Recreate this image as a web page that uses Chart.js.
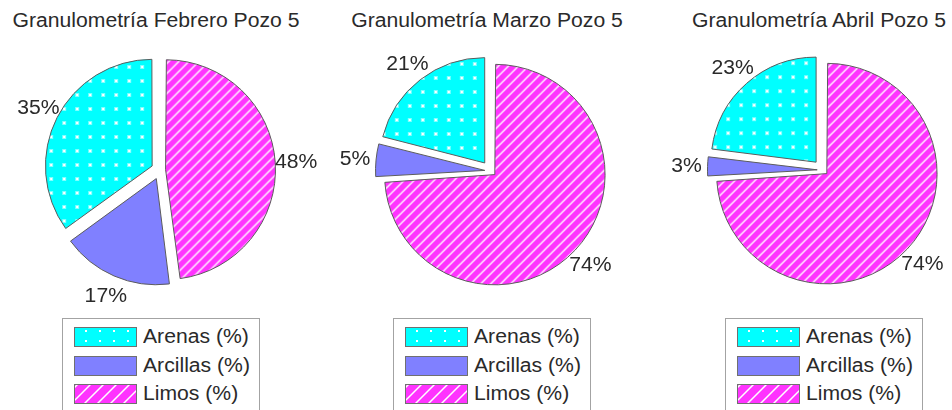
<!DOCTYPE html>
<html><head><meta charset="utf-8">
<script src="https://cdn.jsdelivr.net/npm/chart.js@4.4.1/dist/chart.umd.min.js"></script>
<style>
html,body{margin:0;padding:0;width:952px;height:410px;overflow:hidden;background:#fff;}
body{position:relative;}
.t{position:absolute;width:420px;text-align:center;font-family:"Liberation Sans",Arial,sans-serif;font-size:19.5px;line-height:22px;color:#2a2a2a;transform:scaleX(1.085);white-space:nowrap;}
canvas{position:absolute;}
.lg{position:absolute;width:198px;height:110px;border:1px solid #a3a3a3;box-sizing:border-box;}
.lt{position:absolute;font-family:"Liberation Sans",Arial,sans-serif;font-size:19.5px;line-height:22px;color:#2a2a2a;transform:scaleX(1.085);transform-origin:0 0;white-space:nowrap;}
</style></head><body>
<script>
// ---- data ----
const categories = ['Arenas (%)', 'Arcillas (%)', 'Limos (%)'];
const chartTitles = ['Granulometría Febrero Pozo 5', 'Granulometría Marzo Pozo 5', 'Granulometría Abril Pozo 5'];
const febrero = [35, 17, 48];
const marzo = [21, 5, 74];
const abril = [23, 3, 74];
const seriesList = [febrero, marzo, abril];

// ---- layout / style ----
const layout = [
  {cx: 160, cy: 170, tx: 155.5},
  {cx: 491, cy: 171, tx: 487},
  {cx: 823, cy: 170, tx: 818.5}
];
const R = 105;
const EXPLODE = 0.1 * R;
const CYAN = '#00ffff', BLUE = '#8080ff', MAGENTA = '#ff33ff';
const EDGE = '#5c5c5c';
const FONT = '"Liberation Sans", Arial, sans-serif';

function makeTile(w, h, draw) {
  const c = document.createElement('canvas');
  c.width = w; c.height = h;
  draw(c.getContext('2d'), w, h);
  return c;
}
const dotTile = makeTile(13, 14, (g, w, h) => {
  g.fillStyle = CYAN; g.fillRect(0, 0, w, h);
  g.fillStyle = 'rgba(255,255,255,0.5)'; g.fillRect(5, 6, 4, 4);
  g.fillStyle = '#ffffff'; g.fillRect(6, 7, 2, 2);
});
const HP = 10;
const hatchTile = makeTile(HP, HP, (g, w, h) => {
  g.fillStyle = MAGENTA; g.fillRect(0, 0, w, h);
  g.strokeStyle = '#ffffff'; g.lineWidth = 1.4;
  g.beginPath();
  g.moveTo(-1, HP + 1); g.lineTo(HP + 1, -1);
  g.moveTo(-2, 2); g.lineTo(2, -2);
  g.moveTo(HP - 2, HP + 2); g.lineTo(HP + 2, HP - 2);
  g.stroke();
});
const tmp = document.createElement('canvas').getContext('2d');
const dotPattern = tmp.createPattern(dotTile, 'repeat');
const hatchPattern = tmp.createPattern(hatchTile, 'repeat');
const fills = [dotPattern, BLUE, hatchPattern];

function el(tag, cls, css, text) {
  const e = document.createElement(tag);
  if (cls) e.className = cls;
  Object.assign(e.style, css || {});
  if (text !== undefined) e.textContent = text;
  document.body.appendChild(e);
  return e;
}

function drawSwatch(cv, idx) {
  const g = cv.getContext('2d');
  const w = cv.width, h = cv.height;
  if (idx === 0) {
    g.fillStyle = CYAN; g.fillRect(0, 0, w, h);
    g.fillStyle = '#ffffff';
    for (let k = 0; k < 4; k++) { g.fillRect(11 + 14 * k, 3, 2, 2); g.fillRect(11 + 14 * k, 13, 2, 2); }
  } else if (idx === 1) {
    g.fillStyle = BLUE; g.fillRect(0, 0, w, h);
  } else {
    g.fillStyle = MAGENTA; g.fillRect(0, 0, w, h);
    g.save(); g.beginPath(); g.rect(0, 0, w, h); g.clip();
    g.strokeStyle = '#ffffff'; g.lineWidth = 1.5;
    g.beginPath();
    for (let c = 4; c < w + h + 13; c += 13) { g.moveTo(c, 0); g.lineTo(c - h, h); }
    g.stroke(); g.restore();
  }
  g.strokeStyle = '#707070'; g.lineWidth = 1;
  g.strokeRect(0.5, 0.5, w - 1, h - 1);
}

const pctLabels = {
  id: 'pctLabels',
  afterDatasetsDraw(chart) {
    const ctx = chart.ctx;
    const meta = chart.getDatasetMeta(0);
    const vals = chart.data.datasets[0].data;
    ctx.save();
    ctx.font = '19.5px ' + FONT;
    ctx.fillStyle = '#2a2a2a';
    ctx.textAlign = 'center';
    ctx.textBaseline = 'middle';
    meta.data.forEach((arc, i) => {
      const p = arc.getProps(['x', 'y', 'startAngle', 'endAngle', 'outerRadius'], true);
      const mid = (p.startAngle + p.endAngle) / 2;
      const d = p.outerRadius * 1.3;
      ctx.save();
      ctx.translate(p.x + Math.cos(mid) * d, p.y + Math.sin(mid) * d + 1);
      ctx.scale(1.085, 1);
      ctx.fillText(vals[i] + '%', 0, 0);
      ctx.restore();
    });
    ctx.restore();
  }
};

seriesList.forEach((series, n) => {
  const L = layout[n];
  el('div', 't', {left: (L.tx - 210) + 'px', top: '9px'}, chartTitles[n]);
  const cv = el('canvas', null, {left: (L.cx - 160) + 'px', top: (L.cy - 135) + 'px'});
  cv.width = 320; cv.height = 270;
  // MATLAB draws counter-clockwise from the top; Chart.js draws clockwise -> reverse order
  const order = [2, 1, 0];
  new Chart(cv, {
    type: 'pie',
    data: {
      labels: order.map(i => categories[i]),
      datasets: [{
        data: order.map(i => series[i]),
        backgroundColor: order.map(i => fills[i]),
        borderColor: EDGE,
        borderWidth: 1,
        clip: false,
        offset: (c) => {
          const arr = c.dataset.data;
          const total = arr.reduce((a, b) => a + b, 0);
          const circ = 2 * Math.PI * arr[c.dataIndex] / total;
          return 4 * EXPLODE / (2 - Math.sin(Math.min(Math.PI, circ)));
        }
      }]
    },
    options: {
      responsive: false,
      animation: false,
      events: [],
      radius: R,
      layout: {padding: 0},
      plugins: {legend: {display: false}, tooltip: {enabled: false}, title: {display: false}}
    },
    plugins: [pctLabels]
  });
  el('div', 'lg', {left: (L.cx - 98) + 'px', top: '318px'});
  const rowsTop = [327, 355.5, 383.5];
  const textTop = [324.9, 353.5, 381.5];
  categories.forEach((name, i) => {
    const sw = el('canvas', null, {left: (L.cx - 86) + 'px', top: rowsTop[i] + 'px'});
    sw.width = 63; sw.height = 20;
    drawSwatch(sw, i);
    el('div', 'lt', {left: (L.cx - 17) + 'px', top: textTop[i] + 'px'}, name);
  });
});
</script>
</body></html>
